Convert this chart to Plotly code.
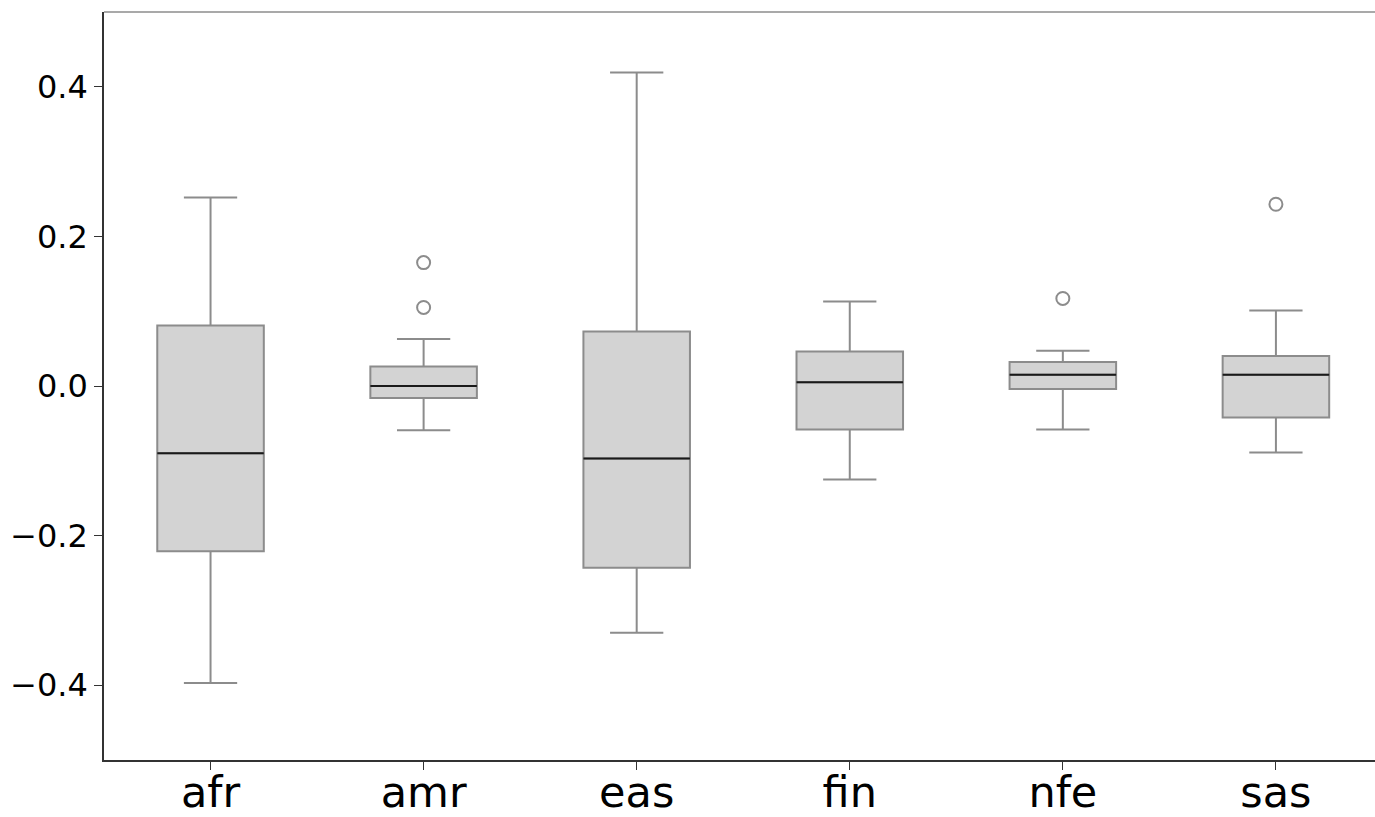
import plotly.graph_objects as go

categories = ["afr", "amr", "eas", "fin", "nfe", "sas"]
lower_fence = [-0.397, -0.059, -0.330, -0.125, -0.058, -0.089]
q1 = [-0.221, -0.016, -0.243, -0.058, -0.004, -0.042]
median = [-0.090, 0.000, -0.097, 0.005, 0.015, 0.015]
q3 = [0.081, 0.026, 0.073, 0.046, 0.032, 0.040]
upper_fence = [0.252, 0.063, 0.419, 0.113, 0.047, 0.101]
outlier_cat = ["amr", "amr", "nfe", "sas"]
outlier_val = [0.165, 0.105, 0.117, 0.243]

ytick_vals = [-0.4, -0.2, 0.0, 0.2, 0.4]
ytick_text = ["\u22120.4", "\u22120.2", "0.0", "0.2", "0.4"]

BOX_W = 0.5
pos = list(range(len(categories)))

fig = go.Figure()
for i, c in enumerate(categories):
    fig.add_trace(go.Box(
        x=[pos[i]], q1=[q1[i]], median=[median[i]], q3=[q3[i]],
        lowerfence=[lower_fence[i]], upperfence=[upper_fence[i]],
        width=BOX_W, whiskerwidth=0.5,
        fillcolor="#d3d3d3", line=dict(color="#8c8c8c", width=2),
        boxpoints=False, showlegend=False, name=c,
    ))

mx, my = [], []
for i in pos:
    mx += [i - BOX_W / 2, i + BOX_W / 2, None]
    my += [median[i], median[i], None]
fig.add_trace(go.Scatter(x=mx, y=my, mode="lines",
                         line=dict(color="#1a1a1a", width=2), showlegend=False))

fig.add_trace(go.Scatter(
    x=[categories.index(c) for c in outlier_cat], y=outlier_val, mode="markers",
    marker=dict(symbol="circle-open", size=13, color="#8c8c8c", line=dict(width=2)),
    showlegend=False))

fig.update_layout(
    width=1375, height=817,
    margin=dict(l=104, r=0, t=12, b=57),
    paper_bgcolor="white", plot_bgcolor="white",
    font=dict(family="DejaVu Sans", color="black"),
    xaxis=dict(range=[-0.5, 5.465], tickvals=pos, ticktext=categories,
               showgrid=False, zeroline=False, showline=True, linecolor="#333333",
               linewidth=1.5, ticks="outside", ticklen=8, tickcolor="#333333",
               tickfont=dict(size=43), automargin=False, ticklabelstandoff=-14),
    yaxis=dict(range=[-0.5, 0.5], tickvals=ytick_vals, ticktext=ytick_text,
               showgrid=False, zeroline=False, showline=True, linecolor="#333333",
               linewidth=1.5, ticks="outside", ticklen=8, tickcolor="#333333",
               tickfont=dict(size=32), automargin=False),
)
fig.add_shape(type="line", xref="paper", yref="paper", x0=0, x1=1, y0=1, y1=1,
              line=dict(color="#8c8c8c", width=1.5))

fig.write_html(
    "out.html",
    config={"displayModeBar": False},
    post_script="document.body.style.margin='0';document.body.style.overflow='hidden';",
)
